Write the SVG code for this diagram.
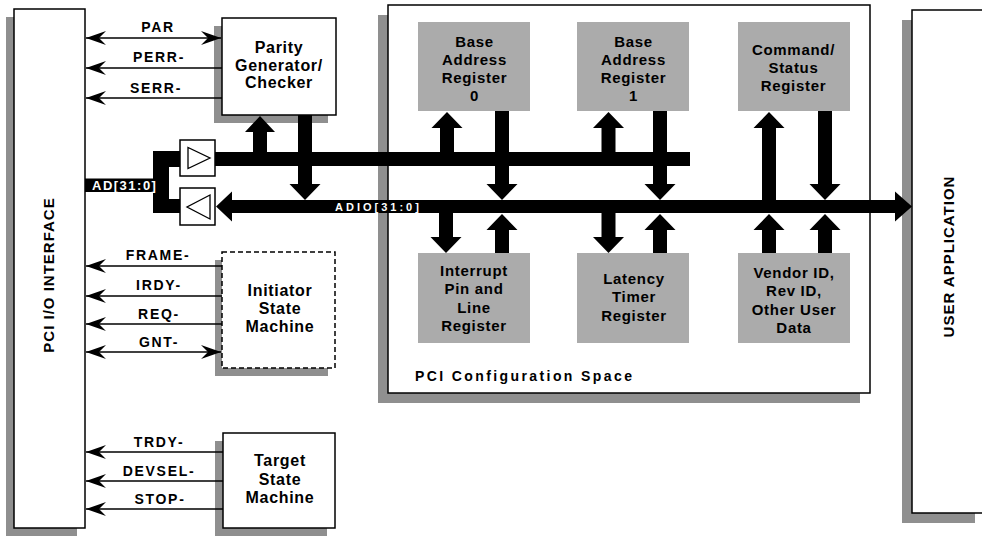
<svg xmlns="http://www.w3.org/2000/svg" width="982" height="537" viewBox="0 0 982 537">
<style>
  .shadow { fill: #8f8f8f; }
  .box { fill: #ffffff; stroke: #000; stroke-width: 1.5; }
  .dbox { fill: #ffffff; stroke: #000; stroke-width: 1.5; stroke-dasharray: 5 3; }
  .reg { fill: #ababab; }
  .t { font-family: "Liberation Sans", Arial, sans-serif; font-weight: bold; fill: #000; text-anchor: middle; }
  .bt { font-size: 16px; letter-spacing: 0.7px; }
  .rt { font-size: 15px; letter-spacing: 0.7px; }
  .sig { font-size: 14px; letter-spacing: 1.7px; }
  .vt { font-size: 15px; letter-spacing: 1px; }
  .wt { fill: #fff; text-anchor: start; }
  .sl { stroke: #000; stroke-width: 1.3; fill: none; }
  .bus { fill: #000; }
</style>
<defs>
  <marker id="barb" viewBox="-22 -10 24 20" refX="0" refY="0" markerWidth="24" markerHeight="20" markerUnits="userSpaceOnUse" orient="auto-start-reverse">
    <path d="M0,0 L-20,-7 L-13,0 L-20,7 Z" fill="#000"/>
  </marker>
</defs>

<g id="pci-io-interface">
  <rect class="shadow" x="6" y="17" width="71" height="519"/>
  <rect class="box" x="14" y="9" width="71" height="519"/>
  <text class="t vt" transform="translate(54,275) rotate(-90)">PCI I/O INTERFACE</text>
</g>

<g id="parity">
  <rect class="shadow" x="214" y="26" width="114" height="97"/>
  <rect class="box" x="222" y="18" width="114" height="97"/>
  <text class="t bt" x="279" y="53">Parity</text>
  <text class="t bt" x="279" y="71">Generator/</text>
  <text class="t bt" x="279" y="88">Checker</text>
</g>

<g id="initiator">
  <rect class="shadow" x="215" y="260" width="113" height="116"/>
  <rect class="dbox" x="222" y="252" width="113" height="116"/>
  <text class="t bt" x="280" y="296">Initiator</text>
  <text class="t bt" x="280" y="313.5">State</text>
  <text class="t bt" x="280" y="332">Machine</text>
</g>

<g id="target">
  <rect class="shadow" x="215" y="441" width="112" height="95"/>
  <rect class="box" x="223" y="433" width="112" height="95"/>
  <text class="t bt" x="280" y="466">Target</text>
  <text class="t bt" x="280" y="484.5">State</text>
  <text class="t bt" x="280" y="503">Machine</text>
</g>

<g id="config-space">
  <rect class="shadow" x="378" y="15" width="482" height="388"/>
  <rect class="box" x="388" y="5" width="482" height="388"/>
  <text class="t" style="font-size:14px;letter-spacing:2.4px;text-anchor:start" x="415" y="381">PCI Configuration Space</text>
</g>

<g id="user-application">
  <rect class="shadow" x="902" y="20" width="73" height="503"/>
  <rect class="box" x="912" y="10" width="80" height="503"/>
  <text class="t vt" transform="translate(954,256.5) rotate(-90)">USER APPLICATION</text>
</g>

<g id="bar0">
  <rect class="reg" x="418" y="22" width="112" height="89"/>
  <text class="t rt" x="474.5" y="47">Base</text>
  <text class="t rt" x="474.5" y="65">Address</text>
  <text class="t rt" x="474.5" y="83">Register</text>
  <text class="t rt" x="474.5" y="101">0</text>
</g>

<g id="bar1">
  <rect class="reg" x="577" y="22" width="112" height="89"/>
  <text class="t rt" x="633.5" y="47">Base</text>
  <text class="t rt" x="633.5" y="65">Address</text>
  <text class="t rt" x="633.5" y="83">Register</text>
  <text class="t rt" x="633.5" y="101">1</text>
</g>

<g id="command-status">
  <rect class="reg" x="738" y="22" width="112" height="89"/>
  <text class="t rt" x="793.5" y="54.5">Command/</text>
  <text class="t rt" x="793.5" y="72.5">Status</text>
  <text class="t rt" x="793.5" y="90.5">Register</text>
</g>

<g id="interrupt">
  <rect class="reg" x="418" y="253" width="112" height="90"/>
  <text class="t rt" x="474" y="276">Interrupt</text>
  <text class="t rt" x="474" y="294">Pin and</text>
  <text class="t rt" x="474" y="312.5">Line</text>
  <text class="t rt" x="474" y="331">Register</text>
</g>

<g id="latency">
  <rect class="reg" x="577" y="253" width="112" height="90"/>
  <text class="t rt" x="634" y="284">Latency</text>
  <text class="t rt" x="634" y="302">Timer</text>
  <text class="t rt" x="634" y="321">Register</text>
</g>

<g id="vendor">
  <rect class="reg" x="738" y="253" width="112" height="90"/>
  <text class="t rt" x="794" y="278">Vendor ID,</text>
  <text class="t rt" x="794" y="296">Rev ID,</text>
  <text class="t rt" x="794" y="315">Other User</text>
  <text class="t rt" x="794" y="333">Data</text>
</g>

<g id="buffer-out">
  <rect class="box" x="180" y="140" width="35" height="36"/>
  <polygon points="188,147.5 188,168.5 210,158" fill="#fff" stroke="#000" stroke-width="1.3"/>
</g>
<g id="buffer-in">
  <rect class="box" x="180" y="188" width="35" height="37"/>
  <polygon points="210,195 210,219 187,207" fill="#fff" stroke="#000" stroke-width="1.3"/>
</g>

<g id="connectors">
  <!-- signal lines -->
  <line class="sl" x1="86" y1="38" x2="221" y2="38" marker-start="url(#barb)" marker-end="url(#barb)"/>
  <line class="sl" x1="222" y1="68" x2="86" y2="68" marker-end="url(#barb)"/>
  <line class="sl" x1="222" y1="98" x2="86" y2="98" marker-end="url(#barb)"/>
  <line class="sl" x1="222" y1="266" x2="86" y2="266" marker-end="url(#barb)"/>
  <line class="sl" x1="222" y1="296" x2="86" y2="296" marker-end="url(#barb)"/>
  <line class="sl" x1="222" y1="324" x2="86" y2="324" marker-end="url(#barb)"/>
  <line class="sl" x1="86" y1="352" x2="221" y2="352" marker-start="url(#barb)" marker-end="url(#barb)"/>
  <line class="sl" x1="223" y1="452" x2="86" y2="452" marker-end="url(#barb)"/>
  <line class="sl" x1="223" y1="481" x2="86" y2="481" marker-end="url(#barb)"/>
  <line class="sl" x1="223" y1="509" x2="86" y2="509" marker-end="url(#barb)"/>

  <!-- AD bus -->
  <rect class="bus" x="85" y="178.5" width="70" height="13.5"/>
  <rect class="bus" x="153" y="151" width="16" height="62"/>
  <rect class="bus" x="153" y="151" width="27" height="16"/>
  <rect class="bus" x="153" y="199" width="27" height="14"/>

  <!-- top bus -->
  <rect class="bus" x="215" y="152" width="475" height="14"/>
  <!-- bottom bus ADIO -->
  <rect class="bus" x="230" y="200" width="666" height="13"/>
  <polygon class="bus" points="232,191.5 216,206.5 232,221.5"/>
  <polygon class="bus" points="895,191.5 912,206.5 895,221.5"/>

  <!-- vertical arrows, parity -->
  <polygon class="bus" points="253,153 253,132 245,132 260,116 275,132 267,132 267,153"/>
  <polygon class="bus" points="298,115 298,184 289.5,184 305,200 320.5,184 312,184 312,115"/>
  <!-- BAR0 -->
  <polygon class="bus" points="440,153 440,128 431.5,128 447,112 462.5,128 454,128 454,153"/>
  <polygon class="bus" points="495,111 495,184 486.5,184 502,200 517.5,184 509,184 509,111"/>
  <!-- BAR1 -->
  <polygon class="bus" points="601.5,153 601.5,128 593,128 608.5,112 624,128 615.5,128 615.5,153"/>
  <polygon class="bus" points="653,111 653,184 644.5,184 660,200 675.5,184 667,184 667,111"/>
  <!-- Command/Status -->
  <polygon class="bus" points="762,201 762,128 753.5,128 769,112 784.5,128 776,128 776,201"/>
  <polygon class="bus" points="818,111 818,184 809.5,184 825,200 840.5,184 832,184 832,111"/>
  <!-- Interrupt -->
  <polygon class="bus" points="439,212 439,237 430.5,237 446,253 461.5,237 453,237 453,212"/>
  <polygon class="bus" points="495,253 495,230 486.5,230 502,214 517.5,230 509,230 509,253"/>
  <!-- Latency -->
  <polygon class="bus" points="601.5,212 601.5,237 593,237 608.5,253 624,237 615.5,237 615.5,212"/>
  <polygon class="bus" points="653,253 653,230 644.5,230 660,214 675.5,230 667,230 667,253"/>
  <!-- Vendor -->
  <polygon class="bus" points="762,253 762,230 753.5,230 769,214 784.5,230 776,230 776,253"/>
  <polygon class="bus" points="818,253 818,230 809.5,230 825,214 840.5,230 832,230 832,253"/>

  <!-- labels -->
  <text class="t sig" x="158" y="32">PAR</text>
  <text class="t sig" x="159" y="62">PERR-</text>
  <text class="t sig" x="156" y="92.5">SERR-</text>
  <text class="t sig" x="158" y="260">FRAME-</text>
  <text class="t sig" x="159" y="290">IRDY-</text>
  <text class="t sig" x="159" y="319">REQ-</text>
  <text class="t sig" x="159" y="347">GNT-</text>
  <text class="t sig" x="159" y="447">TRDY-</text>
  <text class="t sig" x="159" y="476">DEVSEL-</text>
  <text class="t sig" x="160" y="504">STOP-</text>
  <text class="t wt" style="font-size:13px;letter-spacing:1.5px" x="92" y="189.5">AD[31:0]</text>
  <text class="t wt" style="font-size:11px;letter-spacing:3px" x="335" y="211">ADIO[31:0]</text>
</g>
</svg>
